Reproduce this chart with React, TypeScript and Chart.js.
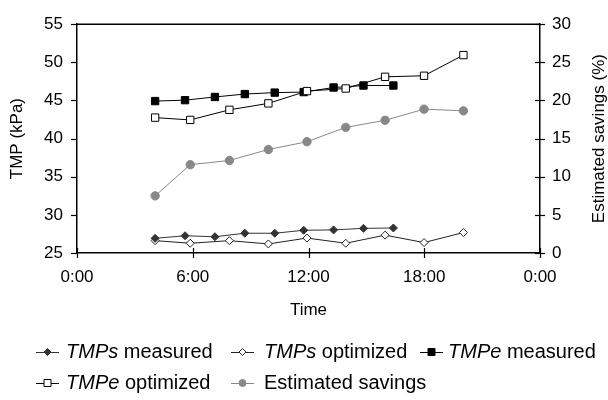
import React, { useEffect, useRef } from "react";
import { Chart, registerables } from "chart.js";

Chart.register(...registerables);

// ---- data ----
const hoursMeasured = [4.05, 5.6, 7.15, 8.7, 10.25, 11.75, 13.3, 14.85, 16.4];
const tmpsMeasured = [26.92, 27.26, 27.13, 27.59, 27.59, 27.98, 28.03, 28.23, 28.28];
const tmpeMeasured = [44.92, 45.04, 45.46, 45.84, 46.03, 46.1, 46.7, 46.96, 46.96];

const hoursOptimized = [4.05, 5.87, 7.9, 9.92, 11.92, 13.93, 15.97, 17.99, 20.03];
const tmpsOptimized = [26.62, 26.28, 26.62, 26.19, 26.96, 26.28, 27.34, 26.37, 27.68];
const tmpeOptimized = [42.75, 42.45, 43.77, 44.62, 46.23, 46.57, 48.1, 48.24, 50.95];
const estimatedSavings = [7.49, 11.58, 12.13, 13.57, 14.59, 16.47, 17.4, 18.86, 18.64];

const seriesLabels = ["TMPs measured", "TMPs optimized", "TMPe measured", "TMPe optimized", "Estimated savings"];
const legendItalic = ["TMPs", "TMPs", "TMPe", "TMPe", ""];
const legendRest = [" measured", " optimized", " measured", " optimized", "Estimated savings"];

const xTicks = [0, 6, 12, 18, 24];
const xTickLabels = ["0:00", "6:00", "12:00", "18:00", "0:00"];

const FONT = "'Liberation Sans', Arial, sans-serif";

const pts = (xs: number[], ys: number[]) => xs.map((x, i) => ({ x, y: ys[i] }));

const styles = [
  { color: "#333333", fill: "#333333", shape: "rectRot", r: 4 },
  { color: "#222222", fill: "#ffffff", shape: "rectRot", r: 4 },
  { color: "#000000", fill: "#000000", shape: "rect", r: 5.2 },
  { color: "#000000", fill: "#ffffff", shape: "rect", r: 5.2 },
  { color: "#888888", fill: "#888888", shape: "circle", r: 4.2 },
];

const decorPlugin = {
  id: "decor",
  afterDraw(chart: any) {
    const ctx = chart.ctx;
    const a = chart.chartArea;
    const sx = chart.scales.x;
    const sy = chart.scales.y;
    const sy1 = chart.scales.y1;
    ctx.save();
    ctx.strokeStyle = "#000";
    ctx.lineWidth = 1.5;
    // top border
    ctx.beginPath();
    ctx.moveTo(a.left, a.top);
    ctx.lineTo(a.right, a.top);
    ctx.stroke();
    ctx.lineWidth = 1.2;
    // left ticks (outward)
    sy.ticks.forEach((t: any) => {
      const y = Math.round(sy.getPixelForValue(t.value)) + 0.5;
      ctx.beginPath();
      ctx.moveTo(a.left - 6, y);
      ctx.lineTo(a.left, y);
      ctx.stroke();
    });
    // right ticks (cross)
    sy1.ticks.forEach((t: any) => {
      const y = Math.round(sy1.getPixelForValue(t.value)) + 0.5;
      ctx.beginPath();
      ctx.moveTo(a.right - 5, y);
      ctx.lineTo(a.right + 5, y);
      ctx.stroke();
    });
    // bottom ticks (cross)
    sx.ticks.forEach((t: any) => {
      const x = Math.round(sx.getPixelForValue(t.value)) + 0.5;
      ctx.beginPath();
      ctx.moveTo(x, a.bottom - 5);
      ctx.lineTo(x, a.bottom + 5);
      ctx.stroke();
    });
    // right axis title (reads bottom-to-top)
    ctx.fillStyle = "#000";
    ctx.font = `17px ${FONT}`;
    ctx.textAlign = "center";
    ctx.textBaseline = "middle";
    ctx.translate(599, (a.top + a.bottom) / 2);
    ctx.rotate(-Math.PI / 2);
    ctx.fillText("Estimated savings (%)", 0, 0);
    ctx.restore();

    // legend
    const lineX = [36, 231, 420];
    const textX = [66, 264, 448];
    const rowY = [352, 383];
    ctx.save();
    seriesLabels.forEach((_, i) => {
      const col = i % 3;
      const row = Math.floor(i / 3);
      const x0 = lineX[col];
      const y0 = rowY[row];
      const st = styles[i];
      ctx.strokeStyle = st.color;
      ctx.lineWidth = 1;
      ctx.beginPath();
      ctx.moveTo(x0, y0 + 0.5);
      ctx.lineTo(x0 + 23, y0 + 0.5);
      ctx.stroke();
      const cx = x0 + 11.5;
      ctx.fillStyle = st.fill;
      ctx.strokeStyle = st.color;
      ctx.beginPath();
      if (st.shape === "rectRot") {
        const r = 3.5;
        ctx.moveTo(cx, y0 - r);
        ctx.lineTo(cx + r, y0);
        ctx.lineTo(cx, y0 + r);
        ctx.lineTo(cx - r, y0);
        ctx.closePath();
      } else if (st.shape === "rect") {
        ctx.rect(cx - 3.5, y0 - 3.5, 7, 7);
      } else {
        ctx.arc(cx, y0, 3.5, 0, Math.PI * 2);
      }
      ctx.fill();
      ctx.stroke();
      ctx.fillStyle = "#000";
      ctx.textAlign = "left";
      ctx.textBaseline = "middle";
      let tx = textX[col];
      if (legendItalic[i]) {
        ctx.font = `italic 20px ${FONT}`;
        ctx.fillText(legendItalic[i], tx, y0);
        tx += ctx.measureText(legendItalic[i]).width;
      }
      ctx.font = `20px ${FONT}`;
      ctx.fillText(legendRest[i], tx, y0);
    });
    ctx.restore();
  },
};

export default function App() {
  const ref = useRef<HTMLCanvasElement>(null);
  useEffect(() => {
    if (!ref.current) return;
    const seriesData = [
      pts(hoursMeasured, tmpsMeasured),
      pts(hoursOptimized, tmpsOptimized),
      pts(hoursMeasured, tmpeMeasured),
      pts(hoursOptimized, tmpeOptimized),
      pts(hoursOptimized, estimatedSavings),
    ];
    const datasets = seriesData.map((d, i) => ({
      label: seriesLabels[i],
      data: d,
      yAxisID: i === 4 ? "y1" : "y",
      borderColor: styles[i].color,
      backgroundColor: styles[i].fill,
      pointBackgroundColor: styles[i].fill,
      pointBorderColor: styles[i].color,
      pointStyle: styles[i].shape,
      pointRadius: styles[i].r,
      pointBorderWidth: 1,
      borderWidth: 1,
      tension: 0,
      fill: false,
      order: i === 3 ? 0 : i + 1,
    }));
    const chart = new Chart(ref.current, {
      type: "line",
      data: { datasets },
      plugins: [decorPlugin],
      options: {
        animation: false,
        responsive: false,
        layout: { padding: { top: 18, bottom: 67, left: 0, right: 0 } },
        plugins: { legend: { display: false }, tooltip: { enabled: false } },
        scales: {
          x: {
            type: "linear",
            min: 0,
            max: 24,
            afterBuildTicks: (s: any) => {
              s.ticks = xTicks.map((v) => ({ value: v }));
            },
            afterFit: (s: any) => {
              s.height = 80;
            },
            ticks: {
              color: "#000",
              font: { family: FONT, size: 17 },
              padding: 14,
              maxRotation: 0,
              callback: (v: any) => xTickLabels[xTicks.indexOf(Number(v))] ?? "",
            },
            grid: { display: true, drawOnChartArea: false, drawTicks: false },
            border: { display: true, color: "#000", width: 1.5 },
            title: {
              display: true,
              text: "Time",
              color: "#000",
              font: { family: FONT, size: 17 },
              padding: { top: 0, bottom: 12 },
            },
          },
          y: {
            type: "linear",
            position: "left",
            min: 25,
            max: 55,
            ticks: { stepSize: 5, color: "#000", font: { family: FONT, size: 17 }, padding: 14 },
            afterFit: (s: any) => {
              s.width = 77;
            },
            grid: { display: true, drawOnChartArea: false, drawTicks: false },
            border: { display: true, color: "#000", width: 1.5 },
            title: {
              display: true,
              text: "TMP (kPa)",
              color: "#000",
              font: { family: FONT, size: 17 },
              padding: { top: 7, bottom: 0 },
            },
          },
          y1: {
            type: "linear",
            position: "right",
            min: 0,
            max: 30,
            ticks: { stepSize: 5, color: "#000", font: { family: FONT, size: 17 }, padding: 12 },
            afterFit: (s: any) => {
              s.width = 68;
            },
            grid: { display: true, drawOnChartArea: false, drawTicks: false },
            border: { display: true, color: "#000", width: 1.5 },
            title: { display: false },
          },
        },
      },
    } as any);
    return () => chart.destroy();
  }, []);
  return (
    <div style={{ position: "fixed", left: 0, top: 0, width: 608, height: 400, background: "#fff" }}>
      <canvas ref={ref} width={608} height={400} style={{ display: "block" }} />
    </div>
  );
}
